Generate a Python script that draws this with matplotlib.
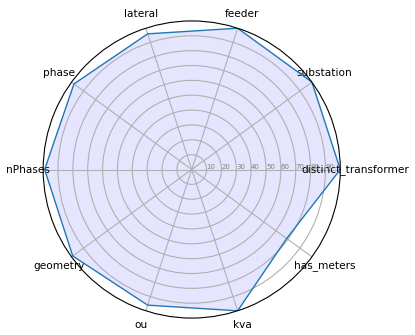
import numpy as np
import matplotlib
matplotlib.use("Agg")
import matplotlib.pyplot as plt

categories = ["distinct_transformer", "substation", "feeder", "lateral", "phase",
              "nPhases", "geometry", "ou", "kva", "has_meters"]
values = [100, 100, 100, 96, 98, 99, 99, 96, 100, 79]
rticks = [10, 20, 30, 40, 50, 60, 70, 80, 90]
rtick_labels = ["10", "20", "30", "40", "50", "60", "70", "80", "90"]

N = len(categories)
angles = [n / float(N) * 2 * np.pi for n in range(N)]
angles += angles[:1]
closed = values + values[:1]

fig = plt.figure(figsize=(4.15, 3.35), dpi=100)
ax = fig.add_axes([0.104, 0.05, 0.716, 0.888], polar=True)

ax.set_xticks(angles[:-1])
ax.set_xticklabels(categories, color="black", size=7.6)
ax.tick_params(axis="x", pad=0.5)
ax.set_rlabel_position(0)
ax.set_yticks(rticks)
ax.set_yticklabels(rtick_labels, color="grey", size=5)
ax.set_ylim(0, 100)

ax.plot(angles, closed, linewidth=1, linestyle="solid")
ax.fill(angles, closed, "b", alpha=0.1)

fig.savefig("out.png", dpi=100)
